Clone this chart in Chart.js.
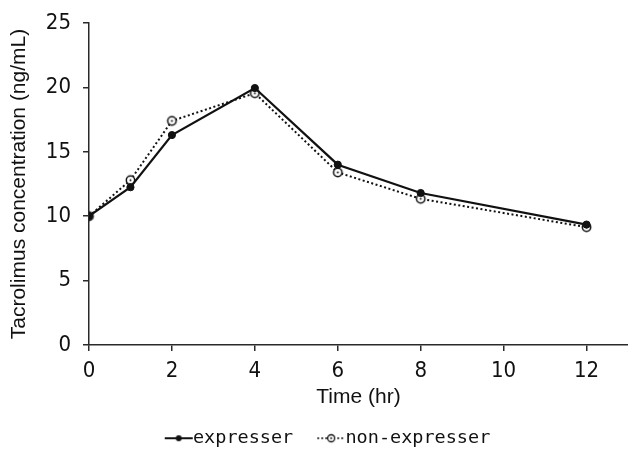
<!DOCTYPE html>
<html>
<head>
<meta charset="utf-8">
<script src="https://cdn.jsdelivr.net/npm/chart.js@4/dist/chart.umd.min.js"></script>
<style>
  html, body { margin: 0; padding: 0; background: #ffffff; }
  #wrap { width: 628px; height: 449px; }
</style>
</head>
<body>
<div id="wrap"><canvas id="c" width="628" height="449"></canvas></div>
<script>
// ---- data ----
const times = [0, 1, 2, 4, 6, 8, 12];
const expresser = [10, 12.25, 16.3, 19.95, 14.0, 11.8, 9.35];
const nonExpresser = [10, 12.8, 17.4, 19.55, 13.4, 11.35, 9.15];
const seriesNames = ['expresser', 'non-expresser'];
const xTickValues = [0, 2, 4, 6, 8, 10, 12];
const yTickValues = [0, 5, 10, 15, 20, 25];
const xTitle = 'Time (hr)';
const yTitle = 'Tacrolimus concentration (ng/mL)';

const INK = '#111111';
const AXIS = '#2a2a2a';
const TICK_FONT = '"DejaVu Sans Condensed", "Liberation Sans", Arial, sans-serif';
const TITLE_FONT = '"Liberation Sans", Arial, sans-serif';

function openDotPoint(r) {
  const s = Math.ceil(r * 2 + 4);
  const cv = document.createElement('canvas');
  cv.width = s; cv.height = s;
  const g = cv.getContext('2d');
  g.beginPath(); g.arc(s / 2, s / 2, r, 0, Math.PI * 2);
  g.fillStyle = '#fff'; g.fill();
  g.lineWidth = 1.5; g.strokeStyle = INK; g.stroke();
  g.beginPath(); g.arc(s / 2, s / 2, 1, 0, Math.PI * 2);
  g.fillStyle = INK; g.fill();
  return cv;
}

function legendIcon(kind) {
  const cv = document.createElement('canvas');
  cv.width = 44; cv.height = 12;
  const g = cv.getContext('2d');
  g.strokeStyle = INK;
  g.beginPath();
  if (kind === 0) { g.lineWidth = 2; g.setLineDash([]); }
  else { g.lineWidth = 1.5; g.setLineDash([2, 2]); }
  g.moveTo(14, 6); g.lineTo(42, 6); g.stroke();
  g.setLineDash([]);
  if (kind === 0) {
    g.beginPath(); g.arc(28, 6, 3, 0, Math.PI * 2); g.fillStyle = INK; g.fill();
  } else {
    g.beginPath(); g.arc(28, 6, 3.5, 0, Math.PI * 2); g.fillStyle = '#fff'; g.fill();
    g.lineWidth = 1.3; g.stroke();
    g.beginPath(); g.arc(28, 6, 0.9, 0, Math.PI * 2); g.fillStyle = INK; g.fill();
  }
  return cv;
}

const icons = [legendIcon(0), legendIcon(1)];
const nonPoint = openDotPoint(4.2);

const legendShift = {
  id: 'legendShift',
  afterLayout(chart) {
    if (chart.legend) { chart.legend.left += 24; chart.legend.top -= 2; }
  }
};

new Chart(document.getElementById('c'), {
  type: 'line',
  data: {
    datasets: [
      {
        label: seriesNames[0],
        data: times.map((t, i) => ({ x: t, y: expresser[i] })),
        borderColor: INK,
        backgroundColor: INK,
        borderWidth: 2.2,
        pointStyle: 'circle',
        pointRadius: 3.6,
        pointBackgroundColor: INK,
        pointBorderColor: INK,
        pointBorderWidth: 1,
        tension: 0
      },
      {
        label: seriesNames[1],
        data: times.map((t, i) => ({ x: t, y: nonExpresser[i] })),
        borderColor: INK,
        backgroundColor: '#fff',
        borderWidth: 2,
        borderDash: [2, 2.5],
        pointStyle: nonPoint,
        pointRadius: 4,
        tension: 0
      }
    ]
  },
  options: {
    responsive: false,
    animation: false,
    devicePixelRatio: 1,
    layout: { autoPadding: false, padding: { left: 0, right: 0, top: 23, bottom: 0 } },
    plugins: {
      tooltip: { enabled: false },
      legend: {
        position: 'bottom',
        align: 'center',
        maxHeight: 39,
        labels: {
          usePointStyle: true,
          pointStyleWidth: 22,
          boxHeight: 12,
          padding: 21,
          color: INK,
          font: { family: '"DejaVu Sans Mono", "Liberation Mono", monospace', size: 18.5 },
          generateLabels(chart) {
            return chart.data.datasets.map((ds, i) => ({
              text: ds.label,
              pointStyle: icons[i],
              fillStyle: 'transparent',
              strokeStyle: 'transparent',
              lineWidth: 0,
              fontColor: INK,
              hidden: false,
              datasetIndex: i
            }));
          }
        }
      }
    },
    scales: {
      x: {
        type: 'linear',
        min: 0,
        max: 13,
        afterBuildTicks(scale) {
          scale.ticks = xTickValues.map(v => ({ value: v }));
        },
        afterFit(scale) { scale.height = 65; scale.paddingLeft = 0; scale.paddingRight = 0; },
        border: { display: true, color: AXIS, width: 1.5 },
        grid: { display: true, drawOnChartArea: false, drawTicks: true, tickLength: 6, color: AXIS, lineWidth: 1.5 },
        ticks: {
          color: INK,
          padding: 7,
          maxRotation: 0,
          font: { family: TICK_FONT, size: 22 }
        },
        title: {
          display: true,
          text: xTitle,
          color: INK,
          padding: { top: 2, bottom: 0 },
          font: { family: TITLE_FONT, size: 21 }
        }
      },
      y: {
        min: 0,
        max: 25,
        afterBuildTicks(scale) {
          scale.ticks = yTickValues.map(v => ({ value: v }));
        },
        afterFit(scale) { scale.width = 89; scale.paddingTop = 0; scale.paddingBottom = 0; },
        border: { display: true, color: AXIS, width: 1.5 },
        grid: { display: true, drawOnChartArea: false, drawTicks: true, tickLength: 6, color: AXIS, lineWidth: 1.5 },
        ticks: {
          color: INK,
          padding: 12,
          font: { family: TICK_FONT, size: 22 }
        },
        title: {
          display: true,
          text: yTitle,
          color: INK,
          padding: { top: 7, bottom: 0 },
          font: { family: TITLE_FONT, size: 21 }
        }
      }
    }
  },
  plugins: [legendShift]
});
</script>
</body>
</html>
